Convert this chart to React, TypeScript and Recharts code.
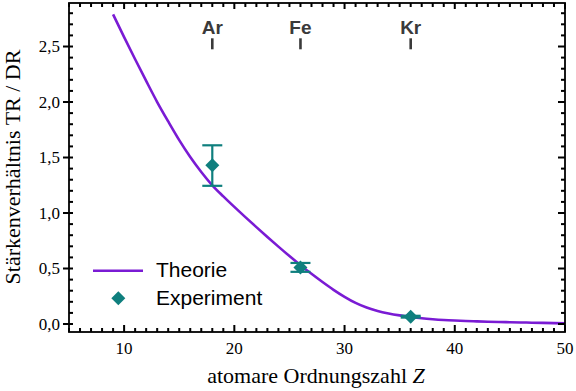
import React from 'react';
import { ComposedChart, Line, Scatter, XAxis, YAxis, ErrorBar, ReferenceDot, Legend } from 'recharts';

// Theory curve (atomic number Z -> ratio TR/DR)
const theoryZ = [9, 10, 11, 12, 13, 14, 15, 16, 17, 18, 19, 20, 21, 22, 23, 24, 25, 26, 27, 28, 29, 30, 31, 32, 33, 34, 35, 36, 37, 38, 39, 40, 41, 42, 43, 44, 45, 46, 47, 48, 49, 50];
const theoryV = [2.79, 2.585, 2.385, 2.19, 2.0, 1.825, 1.657, 1.505, 1.37, 1.25, 1.15, 1.055, 0.963, 0.873, 0.784, 0.697, 0.612, 0.53, 0.452, 0.378, 0.308, 0.245, 0.19, 0.148, 0.117, 0.095, 0.078, 0.064, 0.052, 0.043, 0.036, 0.031, 0.027, 0.024, 0.021, 0.018, 0.016, 0.014, 0.012, 0.01, 0.008, 0.006];

// Experimental points
const expZ = [18, 26, 36];
const expV = [1.43, 0.51, 0.066];
const expErrLow = [0.185, 0.04, 0.008];
const expErrHigh = [0.18, 0.04, 0.008];

// Element annotations
const elementSymbols = ['Ar', 'Fe', 'Kr'];
const elementZ = [18, 26, 36];

// Ticks
const xTicks = [5, 6, 7, 8, 9, 10, 11, 12, 13, 14, 15, 16, 17, 18, 19, 20, 21, 22, 23, 24, 25, 26, 27, 28, 29, 30, 31, 32, 33, 34, 35, 36, 37, 38, 39, 40, 41, 42, 43, 44, 45, 46, 47, 48, 49, 50];
const xMajor = [10, 20, 30, 40, 50];
const yTicks = [0, 0.1, 0.2, 0.3, 0.4, 0.5, 0.6, 0.7, 0.8, 0.9, 1.0, 1.1, 1.2, 1.3, 1.4, 1.5, 1.6, 1.7, 1.8, 1.9, 2.0, 2.1, 2.2, 2.3, 2.4, 2.5, 2.6, 2.7, 2.8];
const yMajor = [0, 0.5, 1.0, 1.5, 2.0, 2.5];

const legendEntries = ['Theorie', 'Experiment'];
const xTitle = 'atomare Ordnungszahl ';
const xTitleVar = 'Z';
const yTitle = 'Stärkenverhältnis TR / DR';

const theoryData = theoryZ.map((z, i) => ({ z, v: theoryV[i] }));
const expData = expZ.map((z, i) => ({ z, v: expV[i], err: [expErrLow[i], expErrHigh[i]] }));

const PURPLE = '#7a1bd4';
const TEAL = '#0f7f7e';
const SERIF = '"Liberation Serif", "Times New Roman", serif';
const SANS = '"Liberation Sans", Arial, sans-serif';
const X_DOMAIN: [number, number] = [5, 50];
const Y_DOMAIN: [number, number] = [-0.072, 2.892];
const TW = 2; // tick thickness

// chart box layout (pixels)
const W = 576;
const H = 391;
const M = { top: 3, right: 11, bottom: 0, left: 0 };
const Y_AXIS_W = 69;
const X_AXIS_H = 59;
const PLOT = {
  left: M.left + Y_AXIS_W,
  top: M.top,
  right: W - M.right,
  bottom: H - M.bottom - X_AXIS_H,
};

const isMajorX = (v: number) => xMajor.some((m) => Math.abs(m - v) < 1e-6);
const isMajorY = (v: number) => yMajor.some((m) => Math.abs(m - v) < 1e-6);
const fmtY = (v: number) => v.toFixed(1).replace('.', ',');

const BottomTick = (props: any) => {
  const { x, y, payload } = props;
  const major = isMajorX(payload.value);
  const len = major ? 7 : 4;
  return (
    <g>
      <rect x={x - TW / 2} y={y - len} width={TW} height={len} fill="#000" />
      {major && (
        <text x={x} y={y + 21.5} textAnchor="middle" fontSize={17} fontFamily={SERIF} fill="#000">
          {payload.value}
        </text>
      )}
    </g>
  );
};

const LeftTick = (props: any) => {
  const { x, y, payload } = props;
  const major = isMajorY(payload.value);
  const x0 = major ? x - 6 : x;
  return (
    <g>
      <rect x={x0} y={y - TW / 2} width={x + 4 - x0} height={TW} fill="#000" />
      {major && (
        <text x={x - 9} y={y} dy="0.35em" textAnchor="end" fontSize={17} fontFamily={SERIF} fill="#000">
          {fmtY(payload.value)}
        </text>
      )}
    </g>
  );
};

// mirrored ticks on the top and right frame edges, placed through the chart scales
const TopTickMark = (t: number) => (p: any) => {
  const len = isMajorX(t) ? 6 : 4;
  return <rect x={p.cx - TW / 2} y={p.cy} width={TW} height={len} fill="#000" />;
};
const RightTickMark = (t: number) => (p: any) => {
  const len = isMajorY(t) ? 7 : 4;
  return <rect x={p.cx - len} y={p.cy - TW / 2} width={len} height={TW} fill="#000" />;
};

const Diamond = (props: any) => {
  const { cx, cy } = props;
  const h = 7;
  return <polygon points={`${cx},${cy - h} ${cx + h},${cy} ${cx},${cy + h} ${cx - h},${cy}`} fill={TEAL} />;
};

const makeElementShape = (sym: string) => (props: any) => {
  const { cx, cy } = props;
  return (
    <g>
      <text x={cx} y={cy} textAnchor="middle" fontSize={19} fontWeight="bold" fontFamily={SANS} fill="#3a3a3a">
        {sym}
      </text>
      <rect x={cx - 1.3} y={cy + 4} width={2.6} height={11} fill="#3a3a3a" />
    </g>
  );
};

const renderLegend = () => (
  <svg width={200} height={56} style={{ display: 'block' }}>
    <line x1={5} x2={55} y1={12.7} y2={12.7} stroke={PURPLE} strokeWidth={2.6} />
    <text x={68} y={19} fontSize={21} fontFamily={SANS} fill="#000">
      {legendEntries[0]}
    </text>
    <polygon points="30.3,33.3 37.3,40.3 30.3,47.3 23.3,40.3" fill={TEAL} />
    <text x={68} y={46.5} fontSize={21} fontFamily={SANS} fill="#000">
      {legendEntries[1]}
    </text>
  </svg>
);

export default function App() {
  return (
    <div style={{ position: 'absolute', left: 0, top: 0, width: W, height: H, background: '#fff' }}>
      <ComposedChart width={W} height={H} margin={M}>
        <XAxis
          dataKey="z"
          type="number"
          domain={X_DOMAIN}
          ticks={xTicks}
          interval={0}
          height={X_AXIS_H}
          tickSize={0}
          tickMargin={0}
          tick={<BottomTick />}
          axisLine={false}
          allowDataOverflow
        />
        <YAxis
          type="number"
          domain={Y_DOMAIN}
          ticks={yTicks}
          interval={0}
          width={Y_AXIS_W}
          tickSize={0}
          tickMargin={0}
          tick={<LeftTick />}
          axisLine={false}
          allowDataOverflow
        />
        {xTicks.map((t) => (
          <ReferenceDot key={`tt${t}`} x={t} y={Y_DOMAIN[1]} ifOverflow="visible" shape={TopTickMark(t)} />
        ))}
        {yTicks.map((t) => (
          <ReferenceDot key={`rt${t}`} x={X_DOMAIN[1]} y={t} ifOverflow="visible" shape={RightTickMark(t)} />
        ))}
        <Line
          data={theoryData}
          dataKey="v"
          name={legendEntries[0]}
          type="monotone"
          stroke={PURPLE}
          strokeWidth={2.6}
          dot={false}
          activeDot={false}
          isAnimationActive={false}
        />
        <Scatter data={expData} dataKey="v" name={legendEntries[1]} fill={TEAL} shape={Diamond} isAnimationActive={false}>
          <ErrorBar dataKey="err" direction="y" width={10} stroke={TEAL} strokeWidth={2.2} isAnimationActive={false} />
        </Scatter>
        {elementSymbols.map((sym, i) => (
          <ReferenceDot key={sym} x={elementZ[i]} y={2.61} shape={makeElementShape(sym)} />
        ))}
        <Legend
          content={renderLegend}
          layout="vertical"
          align="center"
          verticalAlign="middle"
          wrapperStyle={{ left: 88, top: 258, width: 200, height: 56 }}
        />
      </ComposedChart>
      <svg width={W} height={H} style={{ position: 'absolute', left: 0, top: 0, pointerEvents: 'none' }}>
        {/* plot frame, matching the chart's plot box */}
        <rect
          x={PLOT.left}
          y={PLOT.top}
          width={PLOT.right - PLOT.left}
          height={PLOT.bottom - PLOT.top}
          fill="none"
          stroke="#000"
          strokeWidth={1.8}
        />
        <text x={316} y={383} textAnchor="middle" fontSize={22} fontFamily={SERIF} fill="#000">
          {xTitle}
          <tspan fontStyle="italic">{xTitleVar}</tspan>
        </text>
        <text transform="translate(20,167) rotate(-90)" textAnchor="middle" fontSize={22} fontFamily={SERIF} fill="#000">
          {yTitle}
        </text>
      </svg>
    </div>
  );
}
